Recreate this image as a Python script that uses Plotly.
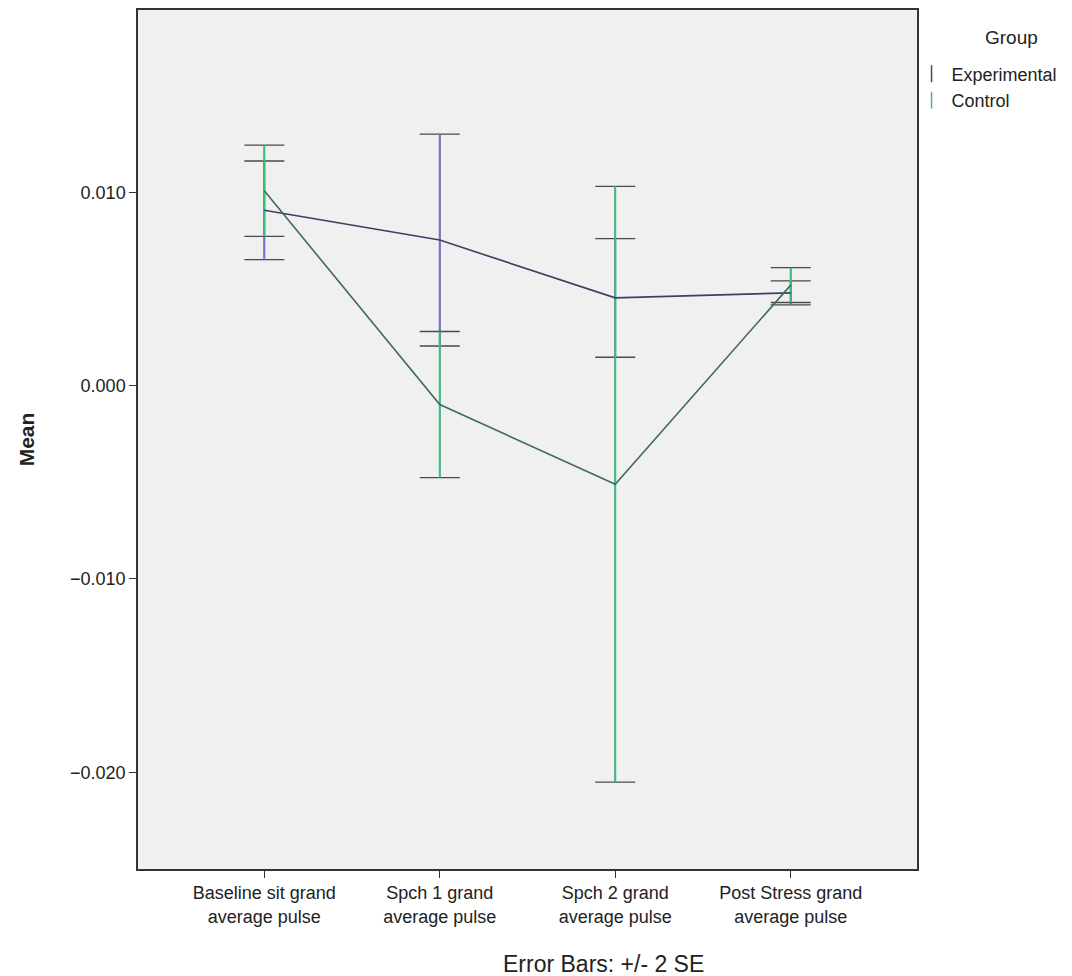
import plotly.graph_objects as go

# Données (moyennes et +/- 2 SE)
categories = [
    "Baseline sit grand<br>average pulse",
    "Spch 1 grand<br>average pulse",
    "Spch 2 grand<br>average pulse",
    "Post Stress grand<br>average pulse",
]
exp_mean = [0.00907, 0.00753, 0.00454, 0.00480]
exp_err = [0.00255, 0.00548, 0.00307, 0.00062]
ctl_mean = [0.01008, -0.00098, -0.00510, 0.00520]
ctl_err = [0.00236, 0.00378, 0.01541, 0.00090]
y_ticks = [0.010, 0.000, -0.010, -0.020]

x_pos = list(range(len(categories)))

EXP_LINE = "#3e3e66"
EXP_STEM = "#7373c8"
CTL_LINE = "#3f6b5b"
CTL_STEM = "#3cc07e"
CAP = "#4a4a4a"
FONT = "Liberation Sans, Arial"

fig = go.Figure()

# Barres d'erreur : capuchons foncés + tige colorée
for mean, err, stem in [(exp_mean, exp_err, EXP_STEM), (ctl_mean, ctl_err, CTL_STEM)]:
    fig.add_trace(go.Scatter(
        x=x_pos, y=mean, mode="markers",
        marker=dict(size=1, color="rgba(0,0,0,0)"),
        error_y=dict(type="data", array=err, visible=True,
                     color=CAP, thickness=1.3, width=20),
        showlegend=False, hoverinfo="skip"
    ))
    fig.add_trace(go.Scatter(
        x=x_pos, y=mean, mode="markers",
        marker=dict(size=1, color="rgba(0,0,0,0)"),
        error_y=dict(type="data", array=err, visible=True,
                     color=stem, thickness=2, width=0),
        showlegend=False, hoverinfo="skip"
    ))

# Lignes reliant les moyennes
fig.add_trace(go.Scatter(x=x_pos, y=exp_mean, mode="lines",
                         line=dict(color=EXP_LINE, width=1.6),
                         showlegend=False))
fig.add_trace(go.Scatter(x=x_pos, y=ctl_mean, mode="lines",
                         line=dict(color=CTL_LINE, width=1.6),
                         showlegend=False))

# Entrées de légende
fig.add_trace(go.Scatter(x=[None], y=[None], mode="markers", name="Experimental",
                         marker=dict(symbol="line-ns-open", size=12, color=CAP,
                                     line=dict(color=CAP, width=1.5))))
fig.add_trace(go.Scatter(x=[None], y=[None], mode="markers", name="Control",
                         marker=dict(symbol="line-ns-open", size=12, color=CTL_STEM,
                                     line=dict(color=CTL_STEM, width=1.5))))

fig.update_layout(
    width=1072, height=976,
    margin=dict(l=130, r=163, t=0, b=115),
    paper_bgcolor="white",
    plot_bgcolor="#f0f0f0",
    font=dict(family=FONT, size=18, color="#222"),
    legend=dict(
        x=0.993, xanchor="left", y=0.947, yanchor="top",
        bgcolor="rgba(0,0,0,0)", itemwidth=30,
        font=dict(size=18), tracegroupgap=0,
    ),
    annotations=[
        dict(text="Error Bars: +/- 2 SE", xref="paper", yref="paper",
             x=0.598, y=-0.093, xanchor="center", yanchor="top",
             showarrow=False, font=dict(size=23, color="#222")),
        dict(text="Group", xref="paper", yref="paper",
             x=1.121, y=0.968, xanchor="center", yanchor="middle",
             showarrow=False, font=dict(size=19, color="#222")),
    ],
)

fig.update_xaxes(
    range=[-0.72, 3.72], tickvals=x_pos, ticktext=categories,
    showgrid=False, zeroline=False,
    ticks="outside", ticklen=7, tickcolor="#333",
    showline=True, linecolor="#333", linewidth=1.5, mirror=True,
    tickfont=dict(size=18),
)
fig.update_yaxes(
    range=[-0.0250, 0.01943], tickvals=y_ticks, tickformat=".3f",
    showgrid=False, zeroline=False,
    ticks="outside", ticklen=7, tickcolor="#333",
    showline=True, linecolor="#333", linewidth=1.5, mirror=True,
    title=dict(text="<b>Mean</b>", font=dict(size=21), standoff=30),
    tickfont=dict(size=18),
)

fig.write_html("out.html")
